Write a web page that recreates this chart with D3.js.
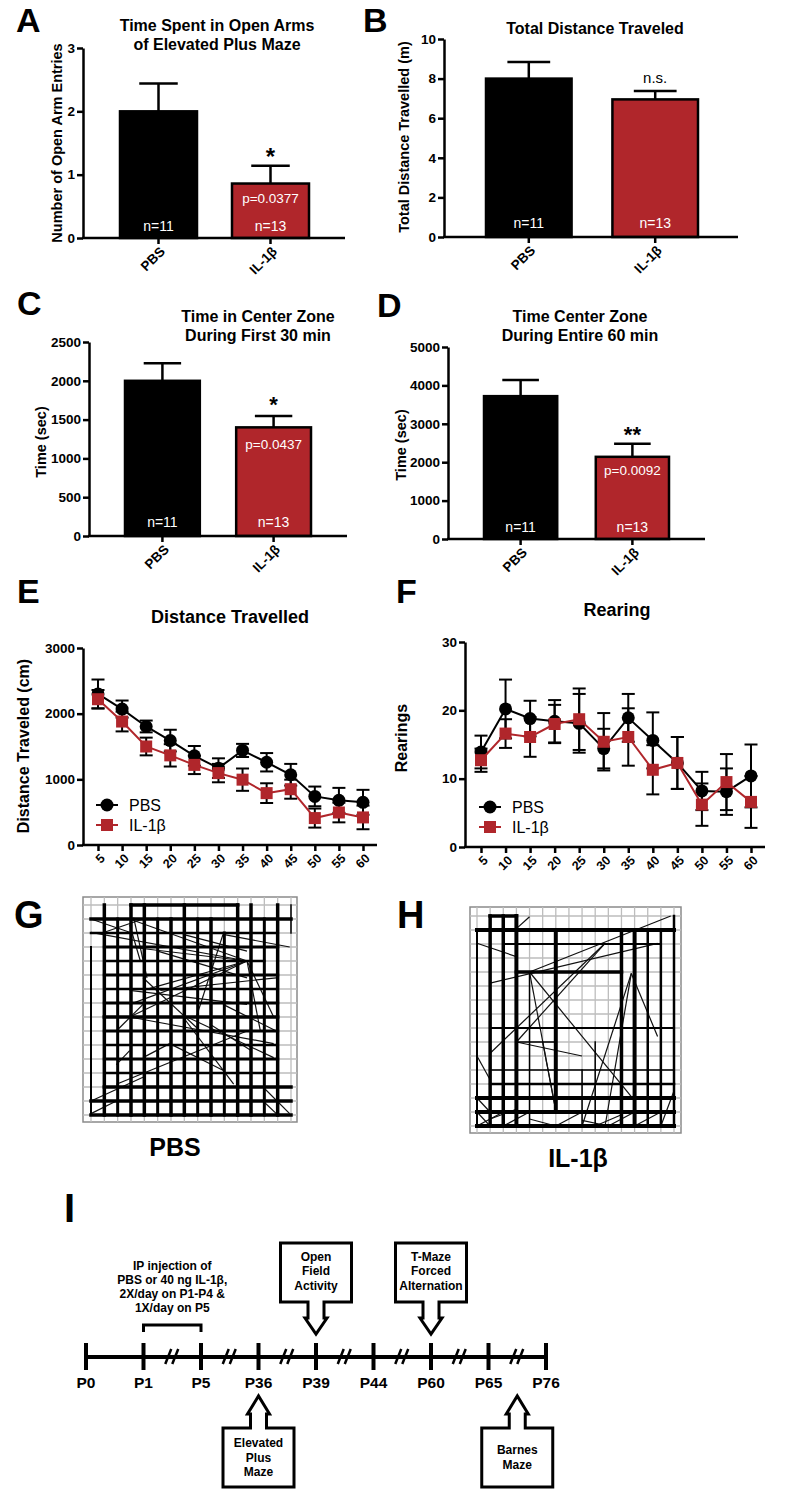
<!DOCTYPE html>
<html><head><meta charset="utf-8">
<script src="https://cdn.jsdelivr.net/npm/d3@7"></script>
<style>body{margin:0;background:#fff}</style>
</head><body>
<svg id="fig" width="790" height="1490" xmlns="http://www.w3.org/2000/svg"></svg>
<script>
// ---------------- DATA ----------------
const groups = ["PBS", "IL-1β"];
const nLabels = ["n=11", "n=13"];

const openArmMean = [2.0, 0.86];
const openArmSem = [0.44, 0.28];
const openArmTicks = [0, 1, 2, 3];

const totalDistMean = [8.0, 6.95];
const totalDistSem = [0.84, 0.42];
const totalDistTicks = [0, 2, 4, 6, 8, 10];

const center30Mean = [2000, 1400];
const center30Sem = [225, 146];
const center30Ticks = [0, 500, 1000, 1500, 2000, 2500];

const center60Mean = [3720, 2140];
const center60Sem = [420, 340];
const center60Ticks = [0, 1000, 2000, 3000, 4000, 5000];

const timeBins = [5, 10, 15, 20, 25, 30, 35, 40, 45, 50, 55, 60];
const distPBS    = [2300, 2070, 1805, 1590, 1358, 1170, 1440, 1260, 1070, 740, 680, 650];
const distPBSsem = [220, 130, 90, 165, 150, 150, 100, 140, 165, 150, 190, 190];
const distIL     = [2220, 1880, 1500, 1365, 1220, 1095, 995, 790, 850, 410, 495, 420];
const distILsem  = [140, 150, 135, 170, 140, 140, 170, 150, 145, 145, 150, 180];
const distTicks = [0, 1000, 2000, 3000];

const rearPBS    = [13.9, 20.2, 18.8, 18.4, 18.1, 14.4, 18.9, 15.6, 12.3, 8.2, 8.1, 10.4];
const rearPBSsem = [2.4, 4.3, 2.6, 3.1, 4.3, 2.9, 3.5, 4.1, 3.8, 2.8, 3.4, 4.6];
const rearIL     = [12.7, 16.6, 16.1, 18.0, 18.7, 15.4, 16.1, 11.3, 12.3, 6.2, 9.5, 6.6];
const rearILsem  = [1.7, 2.1, 2.9, 2.8, 4.5, 4.2, 4.2, 3.6, 3.8, 3.1, 4.1, 3.8];
const rearTicks = [0, 10, 20, 30];

// Open-field track plots, grid units (16 x 16 grid lines, 0..15)
// thick runs: [line index, from, to, width]
const pbsVert = [[0,3,15,2],[1,0,15,3.5],[2,1,15,3],[3,0,15,3.5],[4,0,15,3.5],[5,1,15,3],[6,1,15,3.5],[7,0,15,3.5],[8,1,15,3],[9,1,15,3.5],[10,2,15,3],[11,0,15,3.5],[12,0,15,3.5],[13,1,15,3],[14,0,15,3.5],[15,0,2,1.5]];
const pbsHorz = [[0,3,11,3.5],[1,0,15,3.5],[2,0,14,2.5],[3,1,14,3],[4,1,13,2.5],[5,1,14,3],[6,1,14,2.5],[7,1,14,3],[8,1,14,3.5],[9,1,14,3],[10,1,14,2.5],[11,1,14,3],[12,1,14,2.5],[13,1,15,3.5],[14,0,15,3.5],[15,0,15,3.5]];
const pbsDiag = [[0,1,2.9,1.95],[0,1.95,11.7,4],[2.9,1,11.7,4],[2.9,3,11.7,4],[2.9,7.1,11.7,4],[2.9,8,11.7,4],[3.9,6.1,11.7,4],[11.7,4,13.7,8],[11.7,4,12.7,9],[9.9,2.1,7.9,8],[9.9,2.1,14.9,3],[3.2,0.9,4.2,5.2],[2.9,1.4,3.7,4],[2.9,8,13.7,9.9],[7.2,8,13.7,10.9],[5.2,6.1,13.9,5.2],[2.9,6.1,11.7,7.1],[6.9,8,10.7,12.8],[1.9,12.8,11.7,9],[0,14,3.9,12.3],[0,14.9,1.9,14],[12.9,14,13.9,14.9],[12.9,13,14.9,14.9],[3.9,5.2,8.2,9],[1.9,9,3.9,7.1],[9.9,7.1,13.9,9],[5.9,9.9,9.9,11.8],[3.9,10.9,5.9,9.9],[1,1.95,3.9,1],[6.9,2.1,11.7,3.3],[5,3.3,11.7,5.2],[1.9,11.4,2.9,10.4],[8.9,8.5,12,10.4]];

const ilVert = [[0,1,15,2],[1,0,15,3.5],[2,0,15,3.5],[3,0,15,4],[4,4,15,1.5],[6,1,14,4],[8,11,15,1.5],[9,9,15,1.5],[11,1,15,3.5],[12,1,15,4],[13,1,15,2.5],[14,1,15,2.5],[15,0,15,2.5]];
const ilHorz = [[0,1,3,3.5],[1,0,15,4],[2,2,14,2],[4,3,11,3.5],[8,1,15,2],[9,3,6,1.5],[11,1,15,1.5],[12,1,15,2.5],[13,0,15,4],[14,0,15,4],[15,0,15,4]];
const ilDiag = [[1,4.8,13.75,1.95],[4,4,14.75,0],[3,9,9.75,1.95],[1,9.8,9.75,1.95],[4,4,11.75,12.9],[4,4,6,13.9],[11.75,4.1,13.75,8.6],[11.75,4.1,8,15],[11.75,4.1,9.75,15],[3,9,8,10],[0,10,1,11.7],[0,1.95,3,2.9],[3,0.9,4,0.05],[5,9,6,13.9],[0,15,2,14],[2,15,4,14],[4,14.5,6,15],[6,15,8,14],[8,14.6,10,15],[10,15,12,14],[12,15,14,14],[14,15,15,12.5],[0,14,1,15],[0,13,1,14],[1,14.5,3,13.8],[9,15,11,14.2]];

// Timeline
const timelineDays = ["P0", "P1", "P5", "P36", "P39", "P44", "P60", "P65", "P76"];
const breakSegments = [[1,2],[2,3],[3,4],[4,5],[5,6],[6,7],[7,8]];
const injectionText = ["IP injection of", "PBS or 40 ng IL-1β,", "2X/day on P1-P4 &", "1X/day on P5"];
const testsAbove = [{ at: ["P39"], lines: ["Open", "Field", "Activity"] }, { at: ["P60"], lines: ["T-Maze", "Forced", "Alternation"] }];
const testsBelow = [{ at: ["P36"], lines: ["Elevated", "Plus", "Maze"] }, { at: ["P65", "P76"], lines: ["Barnes", "Maze"] }];

// ---------------- DRAWING ----------------
const FONT = "'Liberation Sans', Arial, Helvetica, sans-serif";
const RED = "#b0262b";
const svg = d3.select("#fig").style("font-family", FONT);
svg.append("rect").attr("width", 790).attr("height", 1490).attr("fill", "#fff");

function txt(g, x, y, s, o = {}) {
  return g.append("text").attr("x", x).attr("y", y).text(s)
    .attr("font-family", FONT)
    .attr("font-size", o.size || 14)
    .attr("font-weight", o.weight || "bold")
    .attr("text-anchor", o.anchor || "middle")
    .attr("fill", o.fill || "#000")
    .attr("transform", o.rotate ? `rotate(${o.rotate},${x},${y})` : null);
}

function styleAxis(a, fs) {
  a.attr("font-family", FONT).attr("font-size", fs).attr("font-weight", "bold");
  a.selectAll("path,line").attr("stroke", "#000").attr("stroke-width", 2.5);
  a.selectAll("text").attr("fill", "#000");
}

function barPanel(o) {
  const g = svg.append("g");
  const y = d3.scaleLinear().domain([0, o.max]).range([o.y0, o.y1]);
  const x = d3.scaleBand().domain(groups).range(o.band).paddingInner(o.pad).paddingOuter(0);
  const bw = x.bandwidth();
  o.mean.forEach((m, i) => {
    const cx = x(groups[i]) + bw / 2;
    g.append("line").attr("x1", cx).attr("x2", cx).attr("y1", y(m)).attr("y2", y(m + o.sem[i])).attr("stroke", "#000").attr("stroke-width", 2.5);
    g.append("line").attr("x1", cx - bw / 4).attr("x2", cx + bw / 4).attr("y1", y(m + o.sem[i])).attr("y2", y(m + o.sem[i])).attr("stroke", "#000").attr("stroke-width", 2.5);
  });
  g.selectAll("rect.bar").data(o.mean).join("rect").attr("class", "bar")
    .attr("x", (d, i) => x(groups[i])).attr("y", d => y(d))
    .attr("width", bw).attr("height", d => y(0) - y(d))
    .attr("fill", (d, i) => i ? RED : "#000").attr("stroke", "#000").attr("stroke-width", 2.5);
  const ya = g.append("g").attr("transform", `translate(${o.ax},0)`)
    .call(d3.axisLeft(y).tickValues(o.ticks).tickFormat(d3.format("d")).tickSize(6).tickSizeOuter(0).tickPadding(2));
  styleAxis(ya, 13.5);
  const xa = g.append("g").attr("transform", `translate(0,${o.y0})`)
    .call(d3.axisBottom(x).tickSize(6).tickSizeOuter(0));
  xa.select(".domain").remove();
  styleAxis(xa, 13.5);
  xa.selectAll(".tick text").attr("y", 0).attr("x", 0).attr("dy", "0.35em")
    .attr("text-anchor", "end").attr("transform", "translate(4,11) rotate(-45)");
  g.append("line").attr("x1", o.ax - 1).attr("x2", o.axEnd).attr("y1", o.y0).attr("y2", o.y0)
    .attr("stroke", "#000").attr("stroke-width", 2.5);
  o.mean.forEach((m, i) => {
    const cx = x(groups[i]) + bw / 2;
    txt(g, cx, o.nY, nLabels[i], { size: 14, weight: "normal", fill: "#fff" });
  });
  const cx1 = x(groups[1]) + bw / 2;
  if (o.p) txt(g, cx1, o.pY, o.p, { size: 13.5, weight: "normal", fill: "#fff" });
  if (o.sig) txt(g, cx1 + (o.sigDx || 0), o.sigY, o.sig, { size: o.sigSize || 22, weight: o.sigWeight || "bold" });
  o.title.forEach((t, k) => txt(g, o.titleX, o.titleY + k * 18.5, t, { size: 16 }));
  txt(g, o.yTitleX, o.yTitleY, o.yTitle, { size: 14.5, rotate: -90 });
}

barPanel({ mean: openArmMean, sem: openArmSem, ticks: openArmTicks, max: 3, y0: 238, y1: 48, ax: 83, axEnd: 345,
  band: [120, 309], pad: 0.3125, nY: 231, p: "p=0.0377", pY: 203, sig: "*", sigY: 165, sigSize: 24,
  title: ["Time Spent in Open Arms", "of Elevated Plus Maze"], titleX: 217, titleY: 31,
  yTitle: "Number of Open Arm Entries", yTitleX: 62, yTitleY: 143 });

barPanel({ mean: totalDistMean, sem: totalDistSem, ticks: totalDistTicks, max: 10, y0: 237, y1: 39, ax: 444, axEnd: 738,
  band: [486, 698], pad: 0.323, nY: 228, sig: "n.s.", sigY: 83, sigSize: 15, sigWeight: "normal",
  title: ["Total Distance Traveled"], titleX: 595, titleY: 34,
  yTitle: "Total Distance Travelled (m)", yTitleX: 409, yTitleY: 137 });

barPanel({ mean: center30Mean, sem: center30Sem, ticks: center30Ticks, max: 2500, y0: 536, y1: 342, ax: 89, axEnd: 347,
  band: [125, 311], pad: 0.327, nY: 527, p: "p=0.0437", pY: 449, sig: "*", sigY: 412, sigSize: 22,
  title: ["Time in Center Zone", "During First 30 min"], titleX: 258, titleY: 322,
  yTitle: "Time (sec)", yTitleX: 46, yTitleY: 442 });

barPanel({ mean: center60Mean, sem: center60Sem, ticks: center60Ticks, max: 5000, y0: 539, y1: 347, ax: 448, axEnd: 705,
  band: [484, 669], pad: 0.345, nY: 532, p: "p=0.0092", pY: 475, sig: "**", sigY: 442, sigSize: 22,
  title: ["Time Center Zone", "During Entire 60 min"], titleX: 580, titleY: 322,
  yTitle: "Time (sec)", yTitleX: 406, yTitleY: 445 });

function linePanel(o) {
  const g = svg.append("g");
  const x = d3.scaleLinear().domain([5, 60]).range(o.xr);
  const y = d3.scaleLinear().domain([0, o.max]).range([o.y0, o.y1]);
  const series = [
    { m: o.pbs, s: o.pbsSem, color: "#000", shape: "circle" },
    { m: o.il, s: o.ilSem, color: RED, shape: "square" }
  ];
  const line = d3.line().x((d, i) => x(timeBins[i])).y(d => y(d));
  series.forEach(se => {
    const eg = g.append("g");
    se.m.forEach((m, i) => {
      const cx = x(timeBins[i]);
      eg.append("line").attr("x1", cx).attr("x2", cx).attr("y1", y(m - se.s[i])).attr("y2", y(m + se.s[i])).attr("stroke", "#000").attr("stroke-width", 2);
      [m - se.s[i], m + se.s[i]].forEach(v => eg.append("line").attr("x1", cx - 6.5).attr("x2", cx + 6.5).attr("y1", y(v)).attr("y2", y(v)).attr("stroke", "#000").attr("stroke-width", 2));
    });
  });
  series.forEach(se => {
    g.append("path").datum(se.m).attr("d", line).attr("fill", "none").attr("stroke", se.color).attr("stroke-width", 2);
    se.m.forEach((m, i) => {
      const cx = x(timeBins[i]);
      if (se.shape === "circle") g.append("circle").attr("cx", cx).attr("cy", y(m)).attr("r", 6.5).attr("fill", se.color);
      else g.append("rect").attr("x", cx - 6).attr("y", y(m) - 6).attr("width", 12).attr("height", 12).attr("fill", se.color);
    });
  });
  const ya = g.append("g").attr("transform", `translate(${o.ax},0)`)
    .call(d3.axisLeft(y).tickValues(o.ticks).tickFormat(d3.format("d")).tickSize(6).tickSizeOuter(0).tickPadding(2));
  styleAxis(ya, 13.5);
  const xa = g.append("g").attr("transform", `translate(0,${o.y0})`)
    .call(d3.axisBottom(x).tickValues(timeBins).tickSize(6).tickSizeOuter(0).tickFormat(d3.format("d")));
  xa.select(".domain").remove();
  styleAxis(xa, 12.5);
  xa.selectAll(".tick text").attr("y", 0).attr("x", 0).attr("dy", "0.35em")
    .attr("text-anchor", "end").attr("transform", "translate(4,11) rotate(-45)");
  g.append("line").attr("x1", o.ax - 1).attr("x2", o.axEnd).attr("y1", o.y0).attr("y2", o.y0).attr("stroke", "#000").attr("stroke-width", 2.5);
  txt(g, o.titleX, o.titleY, o.title, { size: 18 });
  txt(g, o.yTitleX, o.yTitleY, o.yTitle, { size: 16, rotate: -90 });
  series.forEach((se, k) => {
    const ly = o.legY + k * 20;
    g.append("line").attr("x1", o.legX - 11).attr("x2", o.legX + 11).attr("y1", ly).attr("y2", ly).attr("stroke", se.color).attr("stroke-width", 2);
    if (se.shape === "circle") g.append("circle").attr("cx", o.legX).attr("cy", ly).attr("r", 6.5).attr("fill", se.color);
    else g.append("rect").attr("x", o.legX - 6).attr("y", ly - 6).attr("width", 12).attr("height", 12).attr("fill", se.color);
    txt(g, o.legX + 22, ly + 6, groups[k], { size: 16, weight: "normal", anchor: "start" });
  });
}

linePanel({ pbs: distPBS, pbsSem: distPBSsem, il: distIL, ilSem: distILsem, max: 3000, ticks: distTicks,
  xr: [98, 363], y0: 845, y1: 648, ax: 83, axEnd: 377, title: "Distance Travelled", titleX: 230, titleY: 623,
  yTitle: "Distance Traveled (cm)", yTitleX: 29, yTitleY: 746, legX: 107, legY: 805 });

linePanel({ pbs: rearPBS, pbsSem: rearPBSsem, il: rearIL, ilSem: rearILsem, max: 30, ticks: rearTicks,
  xr: [481, 751], y0: 847, y1: 642, ax: 465, axEnd: 765, title: "Rearing", titleX: 617, titleY: 616,
  yTitle: "Rearings", yTitleX: 407, yTitleY: 738, legX: 490, legY: 807 });

function maze(o) {
  const g = svg.append("g");
  const gx = d3.scaleLinear().domain([0, 15]).range(o.gx);
  const gy = d3.scaleLinear().domain([0, 15]).range(o.gy);
  const [x0, x1, y0, y1] = o.box;
  g.append("rect").attr("x", x0).attr("y", y0).attr("width", x1 - x0).attr("height", y1 - y0).attr("fill", "#fff").attr("stroke", "#8a8a8a").attr("stroke-width", 1.5);
  d3.range(16).forEach(k => {
    g.append("line").attr("x1", gx(k)).attr("x2", gx(k)).attr("y1", y0).attr("y2", y1).attr("stroke", "#bdbdbd").attr("stroke-width", 1.3);
    g.append("line").attr("x1", x0).attr("x2", x1).attr("y1", gy(k)).attr("y2", gy(k)).attr("stroke", "#bdbdbd").attr("stroke-width", 1.3);
  });
  o.diag.forEach(d => g.append("line").attr("x1", gx(d[0])).attr("y1", gy(d[1])).attr("x2", gx(d[2])).attr("y2", gy(d[3])).attr("stroke", "#111").attr("stroke-width", 1.2));
  o.vert.forEach(d => g.append("line").attr("x1", gx(d[0])).attr("x2", gx(d[0])).attr("y1", gy(d[1])).attr("y2", gy(d[2])).attr("stroke", "#000").attr("stroke-width", d[3]).attr("stroke-linecap", "square"));
  o.horz.forEach(d => g.append("line").attr("y1", gy(d[0])).attr("y2", gy(d[0])).attr("x1", gx(d[1])).attr("x2", gx(d[2])).attr("stroke", "#000").attr("stroke-width", d[3]).attr("stroke-linecap", "square"));
  txt(g, o.labelX, o.labelY, o.label, { size: 25 });
}
maze({ box: [83, 297, 897, 1122], gx: [91, 291], gy: [905, 1115], vert: pbsVert, horz: pbsHorz, diag: pbsDiag, label: groups[0], labelX: 175, labelY: 1156 });
maze({ box: [470, 681, 907, 1133], gx: [477, 674], gy: [916, 1126], vert: ilVert, horz: ilHorz, diag: ilDiag, label: groups[1], labelX: 578, labelY: 1167 });

// Timeline (panel I)
(function () {
  const g = svg.append("g");
  const x = d3.scalePoint().domain(timelineDays).range([86, 546]);
  const ty = 1357;
  g.append("line").attr("x1", x("P0")).attr("x2", x("P76")).attr("y1", ty).attr("y2", ty).attr("stroke", "#000").attr("stroke-width", 4);
  timelineDays.forEach(d => {
    g.append("line").attr("x1", x(d)).attr("x2", x(d)).attr("y1", ty - 14).attr("y2", ty + 13).attr("stroke", "#000").attr("stroke-width", 4);
    txt(g, x(d), 1388, d, { size: 15.5 });
  });
  breakSegments.forEach(([a, b]) => {
    const mx = (x(timelineDays[a]) + x(timelineDays[b])) / 2;
    [-4, 3].forEach(dx => g.append("line").attr("x1", mx + dx - 3).attr("y1", ty + 7).attr("x2", mx + dx + 3).attr("y2", ty - 8).attr("stroke", "#000").attr("stroke-width", 2.5));
  });
  const bx0 = x("P1"), bx1 = x("P5");
  g.append("path").attr("d", `M${bx0},1332 V1325 H${bx1} V1332`).attr("fill", "none").attr("stroke", "#000").attr("stroke-width", 3);
  injectionText.forEach((t, k) => txt(g, (bx0 + bx1) / 2, 1270 + k * 14, t, { size: 12 }));
  testsAbove.forEach(t => {
    const cx = d3.mean(t.at, d => x(d));
    const l = cx - 35.5, r = cx + 35.5, top = 1243, bb = 1302, hb = 1318, tip = 1334;
    g.append("path").attr("d", `M${l},${top} H${r} V${bb} H${cx + 8} V${hb} H${cx + 11} L${cx},${tip} L${cx - 11},${hb} H${cx - 8} V${bb} H${l} Z`)
      .attr("fill", "#fff").attr("stroke", "#000").attr("stroke-width", 3).attr("stroke-linejoin", "miter");
    t.lines.forEach((s, k) => txt(g, cx, 1261 + k * 14.3, s, { size: 12 }));
  });
  testsBelow.forEach(t => {
    const cx = d3.mean(t.at, d => x(d));
    const l = cx - 35.5, r = cx + 35.5, tip = 1396, hb = 1414, bt = 1428, bb = 1487;
    g.append("path").attr("d", `M${l},${bt} H${cx - 8} V${hb} H${cx - 11} L${cx},${tip} L${cx + 11},${hb} H${cx + 8} V${bt} H${r} V${bb} H${l} Z`)
      .attr("fill", "#fff").attr("stroke", "#000").attr("stroke-width", 3);
    const n = t.lines.length;
    const startY = (bt + bb) / 2 - (n - 1) * 14.3 / 2 + 4;
    t.lines.forEach((s, k) => txt(g, cx, startY + k * 14.3, s, { size: 12 }));
  });
})();

// Panel letters
[["A", 16, 32, 34], ["B", 363, 32, 34], ["C", 17, 315, 34], ["D", 377, 317, 34], ["E", 17, 603, 34], ["F", 396, 603, 34], ["G", 14, 928, 38], ["H", 397, 928, 38], ["I", 64, 1222, 40]]
  .forEach(([s, x, y, fs]) => txt(svg, x, y, s, { size: fs, anchor: "start" }));
</script>
</body></html>
